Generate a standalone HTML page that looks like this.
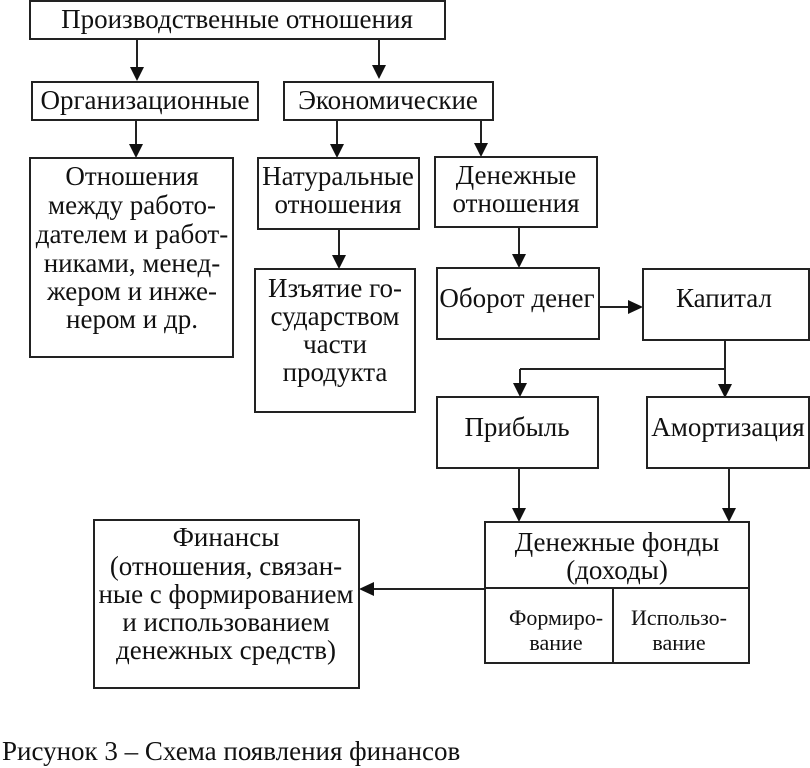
<!DOCTYPE html>
<html><head><meta charset="utf-8"><style>
html,body{margin:0;padding:0;background:#fff;}
svg{display:block;}
text{font-family:"Liberation Serif","Noto Serif CJK SC",serif;font-size:27px;fill:#111;text-anchor:middle;}
rect{fill:none;stroke:#222;stroke-width:2;}
line{stroke:#222;stroke-width:2;}
polygon{fill:#111;}
</style></head><body>
<svg width="810" height="768" viewBox="0 0 810 768">
<rect x="30" y="1" width="415" height="38"/>
<text x="237" y="28">Производственные отношения</text>
<line x1="137" y1="39" x2="137" y2="68"/><polygon points="130,67 144,67 137,81"/>
<line x1="379" y1="39" x2="379" y2="66"/><polygon points="372,65 386,65 379,79"/>
<rect x="32" y="82" width="226" height="38"/>
<text x="145" y="109">Организационные</text>
<rect x="284" y="82" width="209" height="38"/>
<text x="388" y="109">Экономические</text>
<line x1="136" y1="120" x2="136" y2="145"/><polygon points="129,144 143,144 136,158"/>
<line x1="337" y1="120" x2="337" y2="145"/><polygon points="330,144 344,144 337,158"/>
<line x1="481" y1="120" x2="481" y2="144"/><polygon points="474,143 488,143 481,157"/>
<rect x="30" y="158" width="203" height="199"/>
<text x="132" y="185">Отношения</text>
<text x="132" y="214">между работо-</text>
<text x="132" y="243">дателем и работ-</text>
<text x="132" y="272">никами, менед-</text>
<text x="132" y="300">жером и инже-</text>
<text x="132" y="328">нером и др.</text>
<rect x="258" y="158" width="161" height="71"/>
<text x="338" y="185">Натуральные</text>
<text x="338" y="213">отношения</text>
<rect x="435" y="157" width="162" height="70"/>
<text x="516" y="184">Денежные</text>
<text x="516" y="212">отношения</text>
<line x1="339" y1="229" x2="339" y2="256"/><polygon points="332,255 346,255 339,269"/>
<line x1="519" y1="227" x2="519" y2="255"/><polygon points="512,254 526,254 519,268"/>
<rect x="255" y="269" width="160" height="143"/>
<text x="335" y="297">Изъятие го-</text>
<text x="335" y="325">сударством</text>
<text x="335" y="353">части</text>
<text x="335" y="381">продукта</text>
<rect x="437" y="268" width="162" height="71"/>
<text x="517" y="307">Оборот денег</text>
<line x1="598" y1="307" x2="630" y2="307"/><polygon points="628,300 643,307 628,314"/>
<rect x="643" y="269" width="166" height="71"/>
<text x="724" y="307">Капитал</text>
<line x1="725" y1="340" x2="725" y2="385"/><polygon points="718,384 732,384 725,398"/>
<line x1="520" y1="369" x2="725" y2="369"/>
<line x1="520" y1="369" x2="520" y2="384"/><polygon points="513,383 527,383 520,397"/>
<rect x="437" y="397" width="161" height="71"/>
<text x="517" y="436">Прибыль</text>
<rect x="647" y="397" width="162" height="71"/>
<text x="728" y="436">Амортизация</text>
<line x1="519" y1="468" x2="519" y2="509"/><polygon points="512,508 526,508 519,522"/>
<line x1="729" y1="468" x2="729" y2="509"/><polygon points="722,508 736,508 729,522"/>
<rect x="485" y="522" width="264" height="141"/>
<text x="617" y="551">Денежные фонды</text>
<text x="617" y="579">(доходы)</text>
<line x1="485" y1="588" x2="749" y2="588"/>
<line x1="613" y1="588" x2="613" y2="663"/>
<text x="556" y="625" style="font-size:22px">Формиро-</text>
<text x="556" y="650" style="font-size:22px">вание</text>
<text x="679" y="625" style="font-size:22px">Использо-</text>
<text x="679" y="650" style="font-size:22px">вание</text>
<line x1="372" y1="589" x2="485" y2="589"/><polygon points="374,582 374,596 359,589"/>
<rect x="94" y="520" width="265" height="168"/>
<text x="226" y="546">Финансы</text>
<text x="226" y="575">(отношения, связан-</text>
<text x="226" y="603">ные с формированием</text>
<text x="226" y="631">и использованием</text>
<text x="226" y="659">денежных средств)</text>
<text x="2" y="760" style="text-anchor:start">Рисунок 3 – Схема появления финансов</text>
</svg>
</body></html>
